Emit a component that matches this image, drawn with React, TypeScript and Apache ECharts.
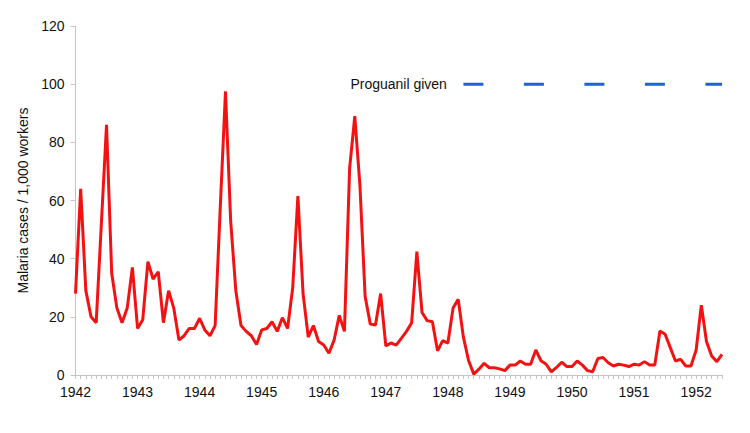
import React, { useEffect, useRef } from "react";
import * as echarts from "echarts";

const years = ["1942", "1943", "1944", "1945", "1946", "1947", "1948", "1949", "1950", "1951", "1952"];
const lastYearMonths = 6;

const malaria1942 = [28, 64, 29, 20, 18, 52, 86, 35, 23, 18, 23, 37];
const malaria1943 = [16, 19, 39, 33, 35.5, 18, 29, 23, 12, 13.5, 16, 16];
const malaria1944 = [19.5, 15.5, 13.5, 17, 58, 97.5, 53, 29, 17, 15, 13.5, 10.5];
const malaria1945 = [15.5, 16, 18.3, 15, 19.7, 16, 30, 61.5, 28, 13, 17, 11.5];
const malaria1946 = [10.3, 7.5, 12, 20.5, 15, 71, 89, 65, 27, 17.5, 17.2, 28];
const malaria1947 = [10, 11, 10.3, 12.6, 15, 18, 42.4, 21.5, 18.7, 18.3, 8.3, 11.8];
const malaria1948 = [11, 23, 26, 13, 5, 0.3, 2, 4, 2.5, 2.5, 2.1, 1.5];
const malaria1949 = [3.4, 3.4, 4.8, 3.7, 3.7, 8.6, 4.9, 3.7, 1.1, 2.6, 4.4, 2.9];
const malaria1950 = [2.9, 4.8, 3.4, 1.5, 1.1, 5.7, 6, 4.2, 3.1, 3.7, 3.4, 2.9];
const malaria1951 = [3.7, 3.4, 4.6, 3.4, 3.4, 15.1, 14, 9.4, 4.8, 5.4, 3.1, 3.1];
const malaria1952 = [8.6, 24, 11.5, 6.5, 4.6, 7.1];

const proguanilStartIndex = 75;
const proguanilLevel = 100;
const proguanilLabel = "Proguanil given";
const yAxisName = "Malaria cases / 1,000 workers";
const yTicks = { min: 0, max: 120, interval: 20 };

const malariaValues = [
  ...malaria1942, ...malaria1943, ...malaria1944, ...malaria1945, ...malaria1946, ...malaria1947,
  ...malaria1948, ...malaria1949, ...malaria1950, ...malaria1951, ...malaria1952,
];

const categories: string[] = [];
years.forEach((y, yi) => {
  const n = yi === years.length - 1 ? lastYearMonths : 12;
  for (let m = 1; m <= n; m++) categories.push(`${y}-${String(m).padStart(2, "0")}`);
});

const proguanilValues = categories.map((_, i) => (i >= proguanilStartIndex ? proguanilLevel : null));

export default function App() {
  const ref = useRef<HTMLDivElement>(null);
  useEffect(() => {
    document.body.style.margin = "0";
    if (!ref.current) return;
    const chart = echarts.init(ref.current, undefined, { renderer: "svg" });
    const font = "'Liberation Sans', Arial, sans-serif";
    const axisGray = "#c4c4c4";
    const textColor = "#111";
    chart.setOption({
      animation: false,
      textStyle: { fontFamily: font },
      grid: { left: 75.5, right: 28, top: 26, bottom: 58, containLabel: false },
      xAxis: {
        type: "category",
        data: categories,
        boundaryGap: false,
        axisLine: { lineStyle: { color: axisGray, width: 1 } },
        axisTick: { show: true, interval: 0, length: 4, lineStyle: { color: axisGray } },
        axisLabel: {
          interval: (index: number) => index % 12 === 0,
          formatter: (v: string) => v.slice(0, 4),
          color: textColor,
          fontSize: 14,
          fontFamily: font,
          margin: 10,
        },
        splitLine: { show: false },
      },
      yAxis: {
        type: "value",
        min: yTicks.min,
        max: yTicks.max,
        interval: yTicks.interval,
        name: yAxisName,
        nameLocation: "middle",
        nameGap: 37,
        nameRotate: 90,
        nameTextStyle: { color: textColor, fontSize: 14, fontFamily: font },
        axisLine: { show: true, lineStyle: { color: axisGray, width: 1 } },
        axisTick: { show: true, length: 5, lineStyle: { color: axisGray } },
        axisLabel: { color: textColor, fontSize: 14, fontFamily: font, margin: 11 },
        splitLine: { show: false },
      },
      series: [
        {
          type: "line",
          data: malariaValues,
          symbol: "none",
          lineStyle: { color: "#f21212", width: 3 },
          z: 3,
        },
        {
          type: "line",
          data: proguanilValues,
          symbol: "none",
          lineStyle: { color: "#1e62d8", width: 3, type: [20, 40.5] },
          connectNulls: false,
          z: 2,
          markPoint: {
            symbol: "circle",
            symbolSize: 1,
            itemStyle: { color: "rgba(0,0,0,0)" },
            data: [
              {
                coord: [categories[proguanilStartIndex], proguanilLevel],
                label: {
                  show: true,
                  position: "left",
                  distance: 16,
                  formatter: proguanilLabel,
                  color: textColor,
                  fontSize: 14,
                  fontFamily: font,
                },
              },
            ],
          },
        },
      ],
    });
    return () => chart.dispose();
  }, []);
  return <div ref={ref} style={{ width: 750, height: 433 }} />;
}
